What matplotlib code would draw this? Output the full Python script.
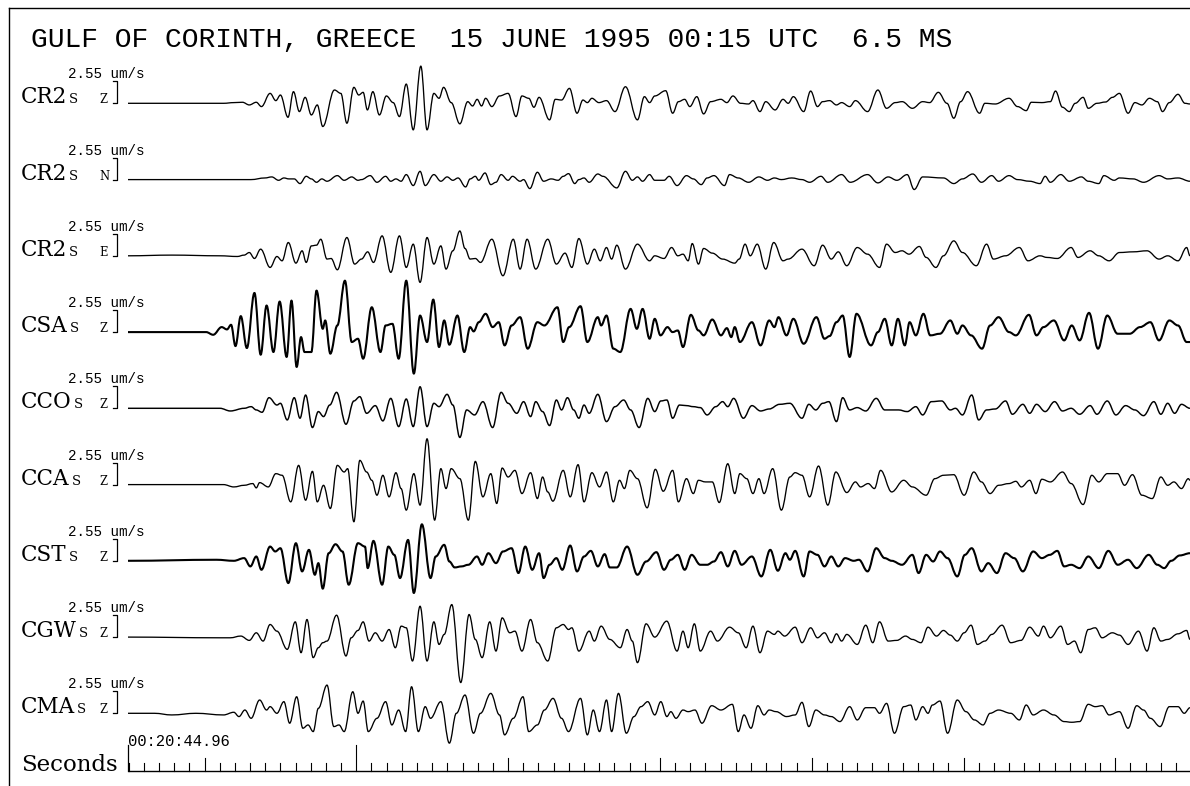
import matplotlib
matplotlib.use('Agg')
import matplotlib.pyplot as plt
from matplotlib.lines import Line2D
from matplotlib.path import Path
from matplotlib.patches import PathPatch

# ---------------- data (time in s after 00:20:44.96, velocity in um/s) ----------------
title = "GULF OF CORINTH, GREECE  15 JUNE 1995 00:15 UTC  6.5 MS"
stations = ["CR2", "CR2", "CR2", "CSA", "CCO", "CCA", "CST", "CGW", "CMA"]
components = ["Z", "N", "E", "Z", "Z", "Z", "Z", "Z", "Z"]
scale_value = 2.55          # um/s, size of the scale bracket
scale_label = "2.55 um/s"
start_label = "00:20:44.96"
start_seconds = 20 * 60 + 44.96

cr2z = [(0,0),(6.3,0),(6.97,0.08),(7.54,0.12),(7.99,-0.19),(8.45,0.12),(8.79,-0.38),(9.36,1.15),(9.74,0.31),(10.04,0.96),
        (10.54,-1.62),(10.9,1.35),(11.29,-0.96),(11.67,0.69),(12.08,-1.35),(12.47,-0.19),(12.83,-2.69),(13.6,1.54),(14.02,1.15),
        (14.42,-2.31),(14.88,1.85),(15.2,0.96),(15.49,1.27),(15.77,-0.77),(16.13,1.35),(16.56,-1.35),(17.02,0.85),(17.47,0.08),
        (17.88,-1.54),(18.33,2.23),(18.79,-3.08),(19.29,4.31),(19.7,-3.08),(20.15,1.15),(20.49,0.58),(20.79,1.85),(21.29,0.08),
        (21.86,-2.38),(22.38,0.19),(22.7,-0.31),(23.0,0.46),(23.29,-0.31),(23.56,0.58),(23.97,-0.38),(24.47,0.85),(25.04,1.15),
        (25.56,-1.54),(25.95,0.85),(26.4,0.58),(26.74,-0.46),(27.08,0.69),(27.77,-1.92),(28.15,0.46),(28.56,0.38),(29.08,1.73),
        (29.58,-1.15),(29.97,0.38),(30.26,0.08),(30.56,0.58),(31.02,0.08),(31.52,0.31),(32.08,-0.96),(32.77,1.92),(33.56,-1.92),
        (34.02,0.77),(34.36,0.08),(34.7,0.85),(35.42,1.46),(35.88,-1.15),(36.26,0.19),(36.67,0.46),(37.01,-0.38),(37.47,0.77),
        (37.92,-1.23),(38.38,0.19),(39.06,0.46),(39.45,0.08),(39.85,0.85),(40.35,0),(40.88,-0.08),(41.17,0.31),(41.63,-0.96),
        (42.01,0.19),(42.63,-0.77),(43.15,0.46),(43.49,0),(43.83,0.77),(44.51,-0.96),(44.97,1.42),(45.42,-0.38),(45.76,0.19),
        (46.22,0.31),(46.67,-0.19),(47.01,0.08),(47.54,-0.38),(47.92,0.31),(48.72,-0.96),(49.4,1.54),(49.97,-0.58),(50.54,0.08),
        (51.0,0.19),(51.67,-0.58),(52.35,0.19),(52.81,0.08),(53.38,1.27),(53.95,0),(54.4,-1.73),(54.85,0.19),(55.31,1.35),
        (56.1,-1.15),(56.45,0),(57.13,-0.08),(58.04,0.58),(58.6,-0.38),(59.17,-0.85),(59.51,0.12),(60.2,0.08),(60.76,0.19),
        (61.1,1.42),(61.56,-0.46),(62.01,-0.96),(62.4,0),(62.92,0.69),(63.26,-0.58),(63.83,0),(64.4,0.15),(64.85,0.69),
        (65.31,1.15),(65.88,-1.15),(66.33,0.08),(66.79,-0.19),(67.29,0.58),(67.81,0.19),(68.15,-0.96),(68.6,0.08),(69.17,1.04),
        (69.63,0),(69.96,-0.08)]

cr2n = [(0,0),(8.1,0),(9.02,0.19),(9.47,0.31),(9.92,-0.08),(10.27,0.19),(10.6,0.08),(10.95,0.08),(11.33,-0.46),(11.74,0.38),
        (12.08,0.08),(12.42,-0.31),(12.77,0.08),(13.11,-0.19),(13.79,0.46),(14.24,-0.08),(14.74,0.31),(15.15,-0.08),(15.38,0),
        (15.95,0.46),(16.4,-0.31),(16.97,0.38),(17.31,-0.19),(17.65,0.08),(17.99,-0.19),(18.33,0.58),(18.79,-0.69),(19.24,0.96),
        (19.58,-0.69),(20.15,0.58),(20.61,-0.19),(21.02,0.31),(21.4,-0.08),(21.74,0.19),(22.24,-0.85),(22.54,0.08),(22.88,0.38),
        (23.1,-0.08),(23.52,0.77),(23.9,-0.58),(24.24,-0.31),(24.58,0.58),(25.04,-0.08),(25.33,0.38),(25.83,-0.19),(26.06,0),
        (26.47,-1.04),(26.97,0.85),(27.38,-0.19),(27.88,0.08),(28.33,-0.08),(28.67,0.38),(29.02,0.69),(29.43,-0.46),(29.7,0),
        (30.04,0.19),(30.38,-0.31),(30.95,0.65),(31.29,0.38),(32.2,-0.96),(32.77,0.96),(33.22,-0.08),(33.56,0.31),(33.9,-0.19),
        (34.36,0.58),(34.7,-0.08),(35.31,-0.08),(35.65,0.38),(36.17,-0.69),(36.79,0.46),(37.24,0.08),(37.76,-0.58),(38.15,0.19),
        (38.6,0.46),(39.29,-0.69),(39.63,0.58),(40.2,0.19),(40.88,-0.31),(41.56,0.31),(42.13,-0.08),(42.58,0.19),(43.04,0),
        (43.72,0.19),(44.4,0),(44.9,-0.31),(45.65,0.38),(46.1,-0.31),(47.01,0.58),(47.58,-0.31),(48.72,0.58),(49.4,-0.38),
        (50.08,0.31),(50.65,-0.08),(51.33,0.58),(51.79,-1.15),(52.35,0.31),(53.72,0.19),(54.4,-0.46),(54.97,0.08),(55.65,0.65),
        (56.22,-0.31),(56.9,0.46),(57.35,-0.19),(58.04,0.46),(58.6,0),(59.4,-0.19),(60.08,-0.46),(60.42,0.38),(60.76,-0.31),
        (61.45,0.58),(62.01,-0.19),(62.81,0.31),(63.26,-0.19),(63.95,-0.46),(64.29,0.46),(64.97,-0.08),(65.31,0.19),(66.22,0.08),
        (66.9,-0.31),(67.92,0.46),(68.49,0.08),(69.17,0.19),(69.96,-0.19)]

cr2e = [(0,0),(2.88,0.08),(6.06,0),(7.2,-0.08),(7.65,0.08),(7.99,0.38),(8.33,-0.31),(8.74,0.77),(9.36,-1.35),(9.81,-0.08),
        (10.15,-0.58),(10.56,1.54),(11.06,-0.85),(11.47,0.58),(11.74,-0.77),(12.08,1.15),(12.42,1.23),(12.7,1.92),(13.11,-0.38),
        (13.38,-0.31),(13.79,-1.62),(14.42,2.12),(14.93,-0.96),(15.38,-0.38),(15.79,0.46),(16.17,-0.77),(16.74,2.31),(17.31,-1.92),
        (17.88,2.31),(18.33,-1.35),(18.79,1.35),(19.24,-3.08),(19.7,2.12),(20.15,-0.96),(20.61,1.15),(20.95,-1.54),(21.4,0.58),
        (21.86,2.88),(22.2,0.85),(22.54,-0.38),(22.88,-0.31),(23.22,-0.77),(23.97,1.92),(24.7,-2.31),(25.38,1.92),(25.83,-1.54),
        (26.29,1.92),(26.86,-1.54),(27.65,1.92),(28.22,-0.96),(28.79,0.31),(29.24,-1.35),(29.7,2.0),(30.26,-0.96),(30.72,0.77),
        (31.11,-0.58),(31.52,0.96),(31.86,-0.38),(32.2,1.23),(32.77,-1.54),(33.56,1.35),(34.36,-0.58),(34.7,0),(35.31,-0.31),
        (35.81,0.96),(36.22,0),(36.56,0.19),(36.9,-0.58),(37.17,1.42),(37.58,-0.96),(37.92,0.85),(38.49,0.31),(39.17,-0.38),
        (39.97,-0.85),(40.26,-0.38),(40.65,1.35),(40.99,0),(41.45,1.35),(42.01,-1.54),(42.54,1.54),(43.15,-0.58),(43.49,-0.38),
        (44.4,0.77),(45.2,-1.15),(45.76,1.23),(46.33,-0.38),(46.79,0.46),(47.35,-1.15),(48.04,0.96),(48.72,0.19),(49.51,-1.35),
        (49.97,1.35),(50.54,0.38),(50.99,0.58),(51.45,0.19),(52.13,1.08),(52.58,-0.19),(53.22,-1.35),(53.72,0),(54.4,1.73),
        (54.97,0.38),(55.88,-1.15),(56.56,1.35),(57.01,-0.38),(57.81,0),(58.72,0.96),(59.29,-0.58),(60.08,0),(60.54,-0.19),
        (61.22,-0.31),(62.13,0.96),(62.58,-0.19),(63.38,0.58),(63.95,0),(64.63,-0.58),(65.31,0.38),(66.22,0.46),(67.13,0.58),
        (67.92,-0.38),(68.49,0),(69.17,-0.58),(69.74,0.96),(69.96,0)]

csa = [(0,0),(5.15,0),(5.61,-0.31),(6.17,0.58),(6.52,0.31),(6.79,0.85),(7.08,-1.62),(7.43,1.85),(7.83,-1.85),(8.33,4.54),
       (8.74,-2.62),(9.13,3.08),(9.58,-2.31),(9.99,3.54),(10.45,-2.88),(10.77,3.65),(11.11,-4.04),(11.4,-0.58),(11.63,-2.31),
       (12.08,-2.31),(12.42,4.81),(12.83,0.38),(12.99,1.35),(13.33,-2.5),(13.79,0.77),(14.29,5.96),(14.74,-1.15),(15.15,-0.77),
       (15.49,-3.08),(16.06,2.88),(16.63,-2.31),(16.97,0.77),(17.42,0.96),(17.83,-3.08),(18.33,5.96),(18.83,-4.81),(19.24,1.92),
       (19.7,-1.15),(20.11,3.77),(20.49,-1.73),(20.83,1.35),(21.17,-1.46),(21.7,1.92),(22.15,-2.31),(22.54,0.58),(22.77,0.08),
       (23.11,1.15),(23.56,2.12),(24.02,0.58),(24.42,1.15),(24.81,-1.54),(25.27,0.77),(25.83,1.73),(26.33,-1.92),(26.97,1.15),
       (27.43,0.77),(28.29,2.88),(28.67,-1.15),(29.06,0.58),(29.81,3.0),(30.26,-1.15),(30.95,1.73),(31.17,0.77),(31.52,1.92),
       (31.97,-1.92),(32.43,-2.31),(33.11,2.69),(33.52,0.38),(33.9,2.69),(34.36,-0.77),(34.7,1.54),(35.08,-0.38),(35.54,0.58),
       (35.87,0),(36.22,0.19),(36.56,-1.73),(37.08,2.0),(37.58,0.19),(37.92,-0.38),(38.49,1.46),(39.06,-0.38),(39.45,0.46),
       (39.74,-0.58),(39.97,0.58),(40.31,-1.15),(41.1,1.15),(41.67,-1.54),(42.24,1.35),(42.58,0.58),(42.85,1.73),(43.38,-0.38),
       (43.83,1.54),(44.51,-1.35),(45.35,1.73),(45.88,-0.77),(46.22,-0.46),(46.67,1.15),(47.08,1.92),(47.54,-2.88),(47.99,2.12),
       (48.95,-1.54),(49.4,0),(49.85,1.54),(50.31,-1.54),(50.72,1.54),(51.17,-1.54),(51.49,1.15),(51.9,-0.38),(52.4,2.12),
       (52.85,-0.38),(53.49,-0.19),(54.17,1.35),(54.63,-0.19),(54.97,0.77),(55.54,-0.38),(56.26,-1.92),(56.79,0.77),(57.35,1.73),
       (58.04,0),(58.49,-0.38),(59.35,2.0),(59.85,-0.38),(60.31,0.58),(60.99,1.35),(61.67,-0.96),(62.17,0.77),(62.69,-0.96),
       (63.31,2.23),(63.9,-1.92),(64.51,1.92),(65.19,-0.19),(65.99,-0.19),(66.67,0.58),(67.35,1.15),(67.92,-0.96),(68.6,1.35),
       (69.17,0.77),(69.74,-1.15),(69.96,-1.15)]

cco = [(0,0),(6.06,0),(6.74,-0.31),(7.65,0),(8.11,0.19),(8.45,-0.19),(8.83,-0.46),(9.29,1.23),(9.81,0.38),(10.04,0.58),
       (10.49,-1.35),(10.95,1.23),(11.33,-1.15),(11.7,1.54),(12.15,-2.23),(12.54,-0.38),(12.88,-0.96),(13.29,0.38),(13.74,1.85),
       (14.36,-1.85),(14.88,0.85),(15.27,1.35),(15.72,-0.58),(16.29,0.31),(16.79,-1.46),(17.31,1.15),(17.83,-2.12),(18.33,1.08),
       (18.79,-2.12),(19.24,2.5),(19.7,-2.12),(20.15,0.58),(20.49,0.19),(21.02,1.62),(21.4,0.38),(21.86,-3.38),(22.31,-0.19),
       (22.83,-0.77),(23.38,0.77),(24.02,-2.23),(24.58,1.85),(25.04,0.58),(25.61,-0.58),(26.06,0.77),(26.52,-0.96),(26.86,0.77),
       (27.31,-0.38),(27.77,-2.0),(28.22,0.96),(28.56,-0.19),(28.95,1.23),(29.36,-0.19),(29.7,-1.15),(30.04,0.38),(30.38,-0.58),
       (30.95,1.62),(31.52,-1.54),(32.08,0.19),(32.65,0.96),(33.11,-0.19),(33.67,-2.23),(34.24,1.15),(34.7,-0.38),(35.1,0.85),
       (35.5,0.96),(35.88,-1.15),(36.33,0.38),(36.79,0.31),(37.24,0.19),(37.7,0.08),(38.15,-0.77),(38.72,0.19),(39.17,0.77),
       (39.51,0.19),(39.9,1.15),(40.54,-1.15),(41.1,0.31),(41.67,-0.31),(42.24,-0.08),(42.92,0.46),(43.6,0.58),(44.4,-1.15),
       (44.85,0.46),(45.31,-0.19),(45.76,0.58),(46.17,0.77),(46.67,-1.54),(47.08,1.23),(47.54,-0.19),(48.04,0.08),(48.6,-0.31),
       (49.29,1.15),(49.85,-0.19),(50.76,-0.19),(51.33,-0.38),(51.9,0.19),(52.35,-0.77),(52.92,0.77),(53.6,0.85),(54.17,-0.19),
       (54.51,0),(54.97,-0.77),(55.58,1.54),(56.04,-1.35),(56.56,-0.19),(57.13,-0.08),(57.81,0.85),(58.26,-0.69),(58.95,0.46),
       (59.4,-0.58),(59.85,0.46),(60.42,-0.38),(61.04,0.77),(61.56,-0.31),(62.13,0),(62.69,-0.69),(63.38,0.31),(63.83,-0.69),
       (64.51,0.85),(65.08,-0.77),(65.72,0.31),(66.33,-0.19),(66.9,-0.85),(67.58,0.77),(68.04,-0.69),(68.49,0.58),(68.95,-0.58),
       (69.4,0.46),(69.96,0)]

cca = [(0,0),(6.29,0),(6.97,-0.27),(7.65,-0.08),(8.22,0.12),(8.45,-0.38),(8.67,0.23),(9.24,-0.27),(9.74,1.27),(10.15,1.08),
       (10.72,-2.0),(11.24,2.23),(11.7,-1.81),(12.15,1.54),(12.47,-2.0),(12.88,-0.08),(13.33,-2.77),(13.79,2.23),(14.24,1.46),
       (14.47,1.85),(14.88,-4.31),(15.27,2.81),(15.72,1.46),(16.06,0.5),(16.4,-1.23),(16.79,1.08),(17.2,-1.42),(17.65,1.38),
       (17.99,-0.46),(18.33,-2.96),(18.83,1.27),(19.24,-2.38),(19.7,5.31),(20.2,-4.12),(20.61,1.85),(20.95,-0.46),(21.29,1.85),
       (21.86,0.69),(22.42,-4.12),(22.88,2.69),(23.38,-1.42),(23.9,1.27),(24.29,-2.19),(24.65,1.92),(25.04,0.88),(25.49,1.65),
       (25.95,-1.04),(26.52,1.38),(26.97,-1.62),(27.31,0.88),(27.65,-0.85),(27.99,-1.92),(28.67,1.65),(29.13,-1.42),(29.65,2.31),
       (30.04,-2.0),(30.56,1.38),(31.06,-0.27),(31.52,1.46),(31.97,-2.0),(32.38,0.5),(32.7,-0.46),(33.06,1.65),(33.56,0.69),
       (34.2,-2.69),(34.74,1.77),(35.26,-0.77),(35.88,1.65),(36.26,-2.0),(36.79,0.69),(37.24,-1.04),(37.58,0.5),(38.04,0.31),
       (38.49,0.31),(38.95,-2.08),(39.51,2.42),(39.97,-1.04),(40.31,1.27),(40.76,0.69),(41.17,-1.04),(41.56,0.69),(41.9,-1.04),
       (42.47,1.85),(43.04,-2.96),(43.6,0.88),(43.95,1.38),(44.4,1.08),(44.9,-1.42),(45.49,2.15),(46.1,-2.38),(46.63,1.46),
       (47.35,-0.92),(47.92,0.31),(48.26,-0.27),(48.76,0.12),(49.17,-0.46),(49.58,1.65),(50.31,-0.85),(51.1,0.5),(51.67,-0.27),
       (52.58,-1.23),(53.15,0.69),(53.72,1.08),(54.4,1.15),(55.08,-1.23),(55.72,1.46),(56.22,0.31),(56.79,-1.04),(57.35,-0.08),
       (58.04,0.12),(58.49,0.38),(58.85,-0.27),(59.4,0.5),(59.81,-1.04),(60.2,0.62),(60.76,0.31),(61.56,1.46),(62.13,0.12),
       (62.92,-2.31),(63.49,1.08),(63.95,0.31),(64.51,1.27),(65.19,1.27),(65.65,-0.08),(66.17,1.15),(66.79,-1.23),(67.47,-1.62),
       (68.04,0.88),(68.49,-0.08),(68.9,0.31),(69.4,-0.46),(69.85,0.69),(69.96,0.5)]

cst = [(0,0),(5.83,0.12),(6.97,0),(7.65,0.31),(8.06,-0.65),(8.45,0.5),(8.79,-1.04),(9.36,1.65),(9.7,1.08),(10.04,1.46),
       (10.56,-2.58),(11.06,2.04),(11.47,-1.23),(11.92,1.27),(12.31,-1.62),(12.54,-0.27),(12.83,-3.23),(13.22,0.88),(13.67,1.92),
       (14.13,1.08),(14.54,-2.77),(15.15,2.04),(15.61,1.65),(15.79,-0.85),(16.17,2.31),(16.74,-2.77),(17.15,1.65),(17.54,0.69),
       (17.92,-2.0),(18.45,2.42),(18.83,-3.73),(19.36,4.23),(19.93,-2.0),(20.27,0.5),(20.83,1.85),(21.17,-0.08),(21.52,-0.77),
       (21.97,-0.65),(22.42,-0.46),(22.99,0.5),(23.33,-0.46),(23.74,0.88),(24.24,-0.27),(24.7,1.08),(25.27,1.46),(25.72,-1.42),
       (26.17,1.65),(26.63,-1.04),(27.08,0.88),(27.38,-2.0),(27.77,-0.46),(28.22,0.31),(28.61,-1.04),(29.13,1.77),(29.58,-1.23),
       (30.04,0.5),(30.49,1.15),(30.95,-0.65),(31.4,0.77),(31.74,-0.77),(32.2,-0.77),(32.88,1.65),(33.56,-1.62),(34.13,-0.08),
       (34.81,1.0),(35.31,-1.04),(35.76,0.12),(36.22,0.69),(36.67,-1.04),(37.13,0.69),(37.7,-0.46),(38.15,-0.46),(38.6,-0.08),
       (39.06,1.0),(39.51,-0.65),(39.97,1.15),(40.42,-0.46),(41.1,0.5),(41.72,-1.81),(42.31,1.27),(42.81,-1.15),(43.31,0.88),
       (43.6,0.12),(43.95,1.15),(44.51,-1.81),(44.9,1.08),(45.42,0.69),(45.88,-0.65),(46.33,0.5),(46.79,-0.65),(47.24,0.31),
       (47.81,0),(48.15,0.12),(48.72,-1.23),(49.29,1.46),(49.85,0.31),(50.31,0),(50.99,-0.46),(51.67,0.69),(52.08,-1.42),
       (52.58,0.69),(53.04,-0.08),(53.49,1.08),(53.99,0.31),(54.63,-1.81),(55.13,0.69),(55.58,1.46),(56.22,-1.23),(56.67,-0.27),
       (57.24,-1.42),(57.81,0.88),(58.38,0.31),(58.95,-1.23),(59.63,1.08),(60.2,0.31),(60.72,0.69),(61.22,1.15),(61.67,-0.65),
       (62.13,-0.46),(62.69,-0.85),(63.26,0.5),(63.95,-0.85),(64.58,1.15),(65.2,-0.46),(65.88,0.12),(66.45,-0.85),(67.24,0.69),
       (67.81,-0.46),(68.26,-0.85),(68.72,0),(69.29,0.62),(69.96,0.88)]

cgw = [(0,0),(6.06,-0.08),(6.74,-0.08),(7.43,0.12),(7.99,-0.38),(8.45,0.5),(8.9,-0.46),(9.36,1.46),(9.81,0.69),(10.49,-1.42),
       (11.02,1.77),(11.4,-1.81),(11.79,2.04),(12.2,-2.38),(12.54,-1.23),(12.83,-0.65),(13.11,-0.46),(13.74,2.54),(14.36,-2.19),
       (14.7,-0.08),(15.15,0.77),(15.49,1.77),(15.88,-0.46),(16.29,0.5),(16.74,-0.46),(17.2,0.88),(17.61,-1.23),(18.0,1.27),
       (18.33,1.08),(18.74,-2.77),(19.24,3.58),(19.7,-2.77),(20.15,1.77),(20.49,-0.85),(20.83,0.31),(21.33,3.77),(21.92,-5.27),
       (22.47,2.62),(22.88,-0.27),(23.33,-2.38),(23.83,1.77),(24.24,-1.62),(24.65,2.23),(25.15,0.5),(25.49,0.69),(25.95,-1.62),
       (26.52,2.04),(26.97,-0.65),(27.65,-2.77),(28.22,1.08),(28.67,1.46),(29.02,0.88),(29.24,1.08),(29.7,-1.62),(30.38,0.69),
       (30.72,-0.46),(31.17,1.27),(31.74,-0.27),(32.43,-1.23),(32.88,0.88),(33.22,-0.46),(33.56,-2.96),(34.13,1.54),(34.7,0),
       (35.49,1.85),(36.17,-1.62),(36.56,0.69),(36.9,-1.23),(37.31,1.54),(37.7,-1.62),(38.38,0.69),(38.83,-0.46),(39.63,1.15),
       (40.2,0.5),(40.72,-1.23),(41.17,1.27),(41.63,-1.81),(42.13,0.69),(42.58,0.31),(42.81,0.69),(43.26,0.12),(43.95,1.15),
       (44.4,-0.65),(44.97,1.08),(45.42,-0.08),(45.88,0.5),(46.33,-0.65),(46.67,0.38),(47.01,-0.46),(47.35,0.31),(48.04,-0.85),
       (48.6,1.38),(49.06,-0.65),(49.51,1.77),(50.08,-0.46),(50.65,-0.38),(51.22,0.12),(51.67,-0.27),(52.24,-0.65),(52.7,1.15),
       (53.26,0.12),(53.72,0.77),(54.17,0.23),(54.63,-0.46),(55.08,0.5),(55.54,1.38),(55.95,-0.85),(56.45,-0.46),(56.9,0.31),
       (57.58,1.38),(58.15,-0.65),(58.83,-0.38),(59.4,1.15),(59.97,0.12),(60.31,1.27),(60.76,-0.08),(61.45,1.27),(61.9,-0.85),
       (62.35,-0.46),(62.76,-1.81),(63.26,0.88),(63.72,1.08),(64.17,-0.08),(64.85,0.5),(65.31,0.23),(65.88,-0.85),(66.56,0.69),
       (67.13,-1.62),(67.58,1.08),(68.04,-0.46),(68.49,-0.27),(69.17,0.38),(69.74,0.77),(69.96,-0.27)]

cma = [(0,0),(1.74,0),(2.88,-0.19),(4.47,0),(6.29,-0.19),(6.97,0.12),(7.31,-0.38),(7.7,0.38),(8.11,-0.58),(8.67,1.54),
       (9.13,0.38),(9.36,0.77),(9.81,0),(10.27,1.35),(10.65,-1.15),(11.11,1.92),(11.52,-1.73),(11.86,-1.35),(12.2,-2.12),
       (12.54,0.58),(13.11,3.27),(13.56,-1.54),(13.9,-1.35),(14.24,-2.12),(14.81,2.5),(15.15,0),(15.49,1.42),(15.83,-2.12),
       (16.4,-0.58),(16.97,1.35),(17.38,-1.35),(17.83,0.38),(18.29,-2.12),(18.68,3.08),(19.13,-2.12),(19.58,0.77),(19.93,-0.58),
       (20.61,1.35),(21.17,-3.46),(21.63,0),(22.2,2.12),(22.76,-2.31),(23.22,0),(23.9,2.31),(24.47,-0.19),(24.81,-2.5),
       (25.38,-0.58),(26.02,1.92),(26.4,-2.12),(26.97,-1.35),(27.43,0.38),(28.0,1.73),(28.56,-0.58),(29.02,-2.12),(29.81,1.73),
       (30.26,-2.5),(30.65,0.38),(31.06,-2.12),(31.52,1.54),(31.86,-2.12),(32.31,2.31),(32.83,-2.31),(33.33,-0.38),(33.79,0.77),
       (34.24,1.35),(34.7,-0.19),(35.1,1.35),(35.5,-0.38),(35.76,0.19),(36.1,-0.58),(36.56,0.38),(36.9,0.19),(37.35,0.38),
       (37.81,-1.15),(38.45,0.88),(39.06,0.38),(39.81,1.04),(40.2,-2.12),(40.58,-0.19),(41.04,-1.73),(41.49,0.88),(41.9,-0.19),
       (42.24,0.38),(42.7,0.19),(43.38,-0.38),(43.95,-0.19),(44.4,1.27),(44.85,-1.54),(45.31,0.38),(45.88,-0.19),(46.33,-0.38),
       (46.9,-0.96),(47.54,0.77),(48.04,-0.77),(48.6,0.65),(49.17,0.65),(49.51,0),(49.97,1.15),(50.49,-2.31),(51.1,0.77),
       (51.56,0.96),(51.9,-0.77),(52.35,0.77),(52.7,0),(52.99,0.96),(53.49,1.42),(53.99,-2.31),(54.63,1.54),(55.2,0.19),
       (55.76,-0.77),(56.33,-1.35),(56.79,0),(57.35,0.38),(58.15,0),(58.72,-0.77),(59.17,0.96),(59.63,-0.19),(60.31,0.38),
       (60.99,-0.19),(61.67,-0.96),(62.17,-1.04),(62.69,-0.96),(63.26,1.04),(63.72,0.77),(64.17,0.88),(64.63,-0.19),(65.31,0.19),
       (65.88,-1.73),(66.45,0.88),(66.9,0.38),(67.35,-0.58),(67.99,-1.54),(68.6,0.77),(69.17,0.77),(69.58,0),(69.96,0.65)]

traces = [cr2z, cr2n, cr2e, csa, cco, cca, cst, cgw, cma]

# ---------------- layout (pixels of the 1190x786 canvas) ----------------
W, H = 1190, 786
X0 = 128.0            # pixel of t = 0
PX_PER_S = 15.18
PX_PER_UNIT = 8.63    # pixels per um/s
baselines_px = [103.3, 179.6, 255.8, 332.1, 408.3, 484.6, 560.8, 637.1, 713.3]
line_widths = [0.95, 0.95, 0.95, 1.5, 1.05, 0.95, 1.5, 0.95, 0.95]
axis_px = 771.0
HANDLE = 0.37         # Bezier handle length (fraction of segment) -> smooth wave shape

fig = plt.figure(figsize=(W / 100, H / 100), dpi=100)
fig.patch.set_facecolor('white')
ax = fig.add_axes([0, 0, 1, 1])
ax.axis('off')
ax.set_xlim(-X0 / PX_PER_S, (W - X0) / PX_PER_S)
ax.set_ylim(-H / PX_PER_UNIT, 0)


def fx(x):
    return x / W


def fy(y):
    return 1 - y / H


def smooth_trace_path(points, offset):
    """Cubic Bezier path through the listed extrema, flat tangents at each one."""
    verts = [(points[0][0], offset + points[0][1])]
    codes = [Path.MOVETO]
    for (t0, a0), (t1, a1) in zip(points[:-1], points[1:]):
        dt = t1 - t0
        verts += [(t0 + HANDLE * dt, offset + a0),
                  (t1 - HANDLE * dt, offset + a1),
                  (t1, offset + a1)]
        codes += [Path.CURVE4] * 3
    return Path(verts, codes)


# frame
fig.add_artist(Line2D([fx(8.5), fx(8.5)], [0, fy(7.5)], color='black', lw=1.0))
fig.add_artist(Line2D([fx(8.5), 1], [fy(7.5), fy(7.5)], color='black', lw=1.0))

fig.text(fx(31), fy(46.5), title, family='Liberation Mono', fontsize=20.2,
         ha='left', va='baseline', color='black')

mono = 'Liberation Mono'
serif = 'DejaVu Serif'

for data, name, comp, bpx, lw in zip(traces, stations, components, baselines_px, line_widths):
    off = -bpx / PX_PER_UNIT
    ax.add_patch(PathPatch(smooth_trace_path(data, off), fill=False,
                           edgecolor='black', lw=lw, joinstyle='round'))
    # scale bracket
    xb = (117 - X0) / PX_PER_S
    xc = (113 - X0) / PX_PER_S
    ax.plot([xc, xb, xb, xc], [off + scale_value, off + scale_value, off, off],
            color='black', lw=0.9, clip_on=False)
    fig.text(fx(68), fy(bpx - 25), scale_label, family=mono, fontsize=10.2,
             ha='left', va='baseline')
    nt = fig.text(fx(20.5), fy(bpx), name, family=serif, fontsize=15.5,
                  ha='left', va='baseline')
    ax.annotate('S', xy=(1, 0), xycoords=nt, xytext=(1.8, 1.4),
                textcoords='offset points', family=serif, fontsize=9.5,
                ha='left', va='bottom')
    fig.text(fx(99), fy(bpx), comp, family=serif, fontsize=8.3,
             ha='left', va='baseline')

# time axis
ya = -axis_px / PX_PER_UNIT
t_end = (W - X0) / PX_PER_S
ax.plot([0, t_end], [ya, ya], color='black', lw=1.0, solid_capstyle='butt')
small_h, mid_h, big_h = 7.7 / PX_PER_UNIT, 13.0 / PX_PER_UNIT, 26.0 / PX_PER_UNIT
ax.plot([0, 0], [ya, ya + big_h], color='black', lw=0.9)
s = int(start_seconds) + 1
while s - start_seconds <= t_end:
    tt = s - start_seconds
    if s % 60 == 0:
        h = big_h
    elif s % 10 == 0:
        h = mid_h
    else:
        h = small_h
    ax.plot([tt, tt], [ya, ya + h], color='black', lw=0.8)
    s += 1

fig.text(fx(21), fy(axis_px), 'Seconds', family=serif, fontsize=16.5,
         ha='left', va='baseline')
fig.text(fx(128), fy(746), start_label, family=mono, fontsize=11.2,
         ha='left', va='baseline')

fig.savefig('out.png', dpi=100, facecolor='white')
